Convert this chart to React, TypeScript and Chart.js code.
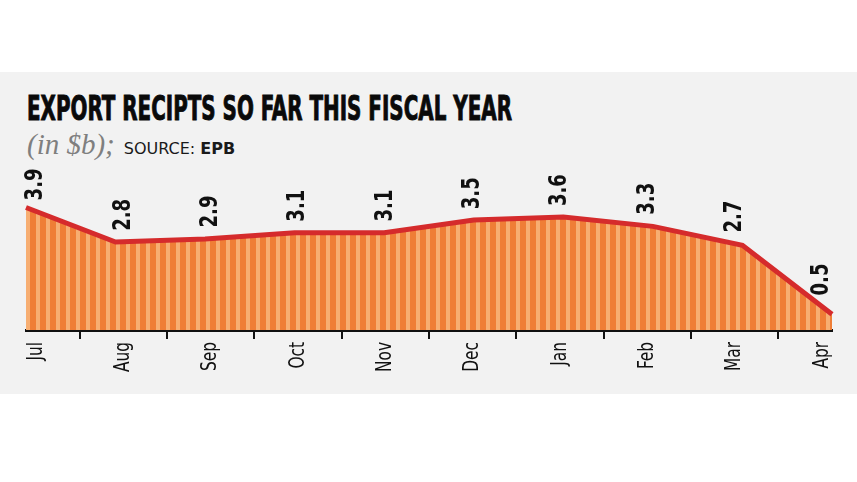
import React, { useEffect, useLayoutEffect, useRef, useState } from 'react';
import { Chart, registerables } from 'chart.js';

Chart.register(...registerables);

const months = ['Jul', 'Aug', 'Sep', 'Oct', 'Nov', 'Dec', 'Jan', 'Feb', 'Mar', 'Apr'];
const receipts = [3.9, 2.8, 2.9, 3.1, 3.1, 3.5, 3.6, 3.3, 2.7, 0.5];
const titleText = 'EXPORT RECIPTS SO FAR THIS FISCAL YEAR';
const unitText = '(in $b);';
const sourceLabel = 'SOURCE:';
const sourceName = 'EPB';

const COND = "'Liberation Sans Narrow', 'Arial Narrow', 'DejaVu Sans Condensed', 'Roboto Condensed', 'DejaVu Sans', sans-serif";

function makeStripes(ctx: CanvasRenderingContext2D) {
  const c = document.createElement('canvas');
  c.width = 10;
  c.height = 4;
  const g = c.getContext('2d')!;
  g.fillStyle = '#ef7e36';
  g.fillRect(0, 0, 10, 4);
  g.fillStyle = '#f7ae72';
  g.fillRect(6, 0, 4, 4);
  return ctx.createPattern(c, 'repeat');
}

// draws rotated (bottom-to-top) text, compressed along its reading direction
function drawUpText(ctx: CanvasRenderingContext2D, text: string, x: number, y: number, squeeze: number, align: 'left' | 'right') {
  ctx.save();
  ctx.translate(x, y);
  ctx.rotate(-Math.PI / 2);
  ctx.scale(squeeze, 1);
  ctx.textAlign = align;
  ctx.textBaseline = 'middle';
  ctx.fillText(text, 0, 0);
  ctx.restore();
}

const labelsPlugin = {
  id: 'labelsPlugin',
  afterDatasetsDraw(chart: any) {
    const ctx = chart.ctx as CanvasRenderingContext2D;
    const x2 = chart.scales.x2;
    const pts = chart.getDatasetMeta(0).data;
    const lineYAt = (x: number) => {
      for (let k = 0; k < pts.length - 1; k++) {
        const a = pts[k];
        const b = pts[k + 1];
        if (x >= a.x && x <= b.x) return a.y + ((x - a.x) / (b.x - a.x)) * (b.y - a.y);
      }
      return x < pts[0].x ? pts[0].y : pts[pts.length - 1].y;
    };
    ctx.save();
    ctx.fillStyle = '#111';
    // value labels
    ctx.font = `bold 25px ${COND}`;
    const vSq = 32 / ctx.measureText('2.8').width;
    receipts.forEach((v, i) => {
      const lx = x2.getPixelForValue(i);
      drawUpText(ctx, v.toFixed(1), lx, lineYAt(lx) - 11, vSq, 'left');
    });
    // month labels
    ctx.font = `22px ${COND}`;
    const mSq = 30 / ctx.measureText('Aug').width;
    const top = chart.chartArea.bottom + 12;
    months.forEach((m, i) => {
      drawUpText(ctx, m, x2.getPixelForValue(i), top, mSq, 'right');
    });
    ctx.restore();
  },
};

function Title() {
  const ref = useRef<HTMLSpanElement>(null);
  const [scale, setScale] = useState(1);
  useLayoutEffect(() => {
    if (ref.current) {
      const w = ref.current.getBoundingClientRect().width;
      if (w > 0) setScale(485 / w);
    }
  }, []);
  return (
    <span
      ref={ref}
      style={{
        position: 'absolute',
        left: 27,
        top: 92,
        font: `bold 33px ${COND}`,
        lineHeight: '33px',
        color: '#0a0a0a',
        WebkitTextStroke: '0.9px #0a0a0a',
        whiteSpace: 'nowrap',
        transform: `scaleX(${scale})`,
        transformOrigin: 'left top',
        display: 'inline-block',
      }}
    >
      {titleText}
    </span>
  );
}

export default function App() {
  const canvasRef = useRef<HTMLCanvasElement>(null);

  useEffect(() => {
    const canvas = canvasRef.current!;
    const ctx = canvas.getContext('2d')!;
    const stripes = makeStripes(ctx);
    const chart = new Chart(ctx, {
      type: 'line',
      data: {
        datasets: [
          {
            data: receipts.map((v, i) => ({ x: i, y: v })),
            borderColor: '#d52b2c',
            borderWidth: 5,
            backgroundColor: stripes as any,
            fill: 'origin',
            pointRadius: 0,
            tension: 0,
            clip: false as any,
            xAxisID: 'x',
          },
        ],
      },
      options: {
        animation: false,
        responsive: false,
        devicePixelRatio: 1,
        layout: { padding: { left: 26, right: 25, top: 13, bottom: 0 } },
        plugins: { legend: { display: false }, tooltip: { enabled: false }, title: { display: false } },
        scales: {
          x: { type: 'linear', min: 0, max: 9, display: false },
          x2: {
            type: 'linear',
            position: 'bottom',
            min: -0.1145,
            max: 9.115,
            afterBuildTicks: (s: any) => {
              const t: any[] = [];
              for (let i = 0; i < months.length; i++) {
                t.push({ value: i });
                if (i < months.length - 1) t.push({ value: i + 0.5 });
              }
              s.ticks = t;
            },
            afterFit: (s: any) => {
              s.height = 64;
            },
            ticks: {
              autoSkip: false,
              minRotation: 90,
              maxRotation: 90,
              padding: 2,
              callback: () => '',
            },
            grid: {
              drawOnChartArea: false,
              drawTicks: true,
              tickLength: 9,
              lineWidth: 2,
              color: (c: any) => (c.tick && Number.isInteger(c.tick.value) ? 'rgba(0,0,0,0)' : '#111'),
            },
            border: { display: true, color: '#111', width: 3 },
          },
          y: { min: 0, max: 5, display: false },
        },
      },
      plugins: [labelsPlugin],
    });
    return () => chart.destroy();
  }, []);

  return (
    <div style={{ position: 'fixed', left: 0, top: 0, width: 857, height: 482, background: '#fff', overflow: 'hidden' }}>
      <div style={{ position: 'absolute', left: 0, top: 72, width: 857, height: 322, background: '#f2f2f2' }} />
      <Title />
      <div
        style={{
          position: 'absolute',
          left: 27,
          top: 128,
          lineHeight: '31px',
          whiteSpace: 'nowrap',
        }}
      >
        <span style={{ font: "italic 29px 'Liberation Serif', serif", color: '#7f7f7f' }}>{unitText}</span>
        <span style={{ font: "16px 'DejaVu Sans', sans-serif", color: '#1a1a1a', marginLeft: 9 }}>{sourceLabel} </span>
        <span style={{ font: "bold 16px 'DejaVu Sans', sans-serif", color: '#1a1a1a' }}>{sourceName}</span>
      </div>
      <div style={{ position: 'absolute', left: 0, top: 160, width: 857, height: 234 }}>
        <canvas ref={canvasRef} width={857} height={234} style={{ display: 'block' }} />
      </div>
    </div>
  );
}
